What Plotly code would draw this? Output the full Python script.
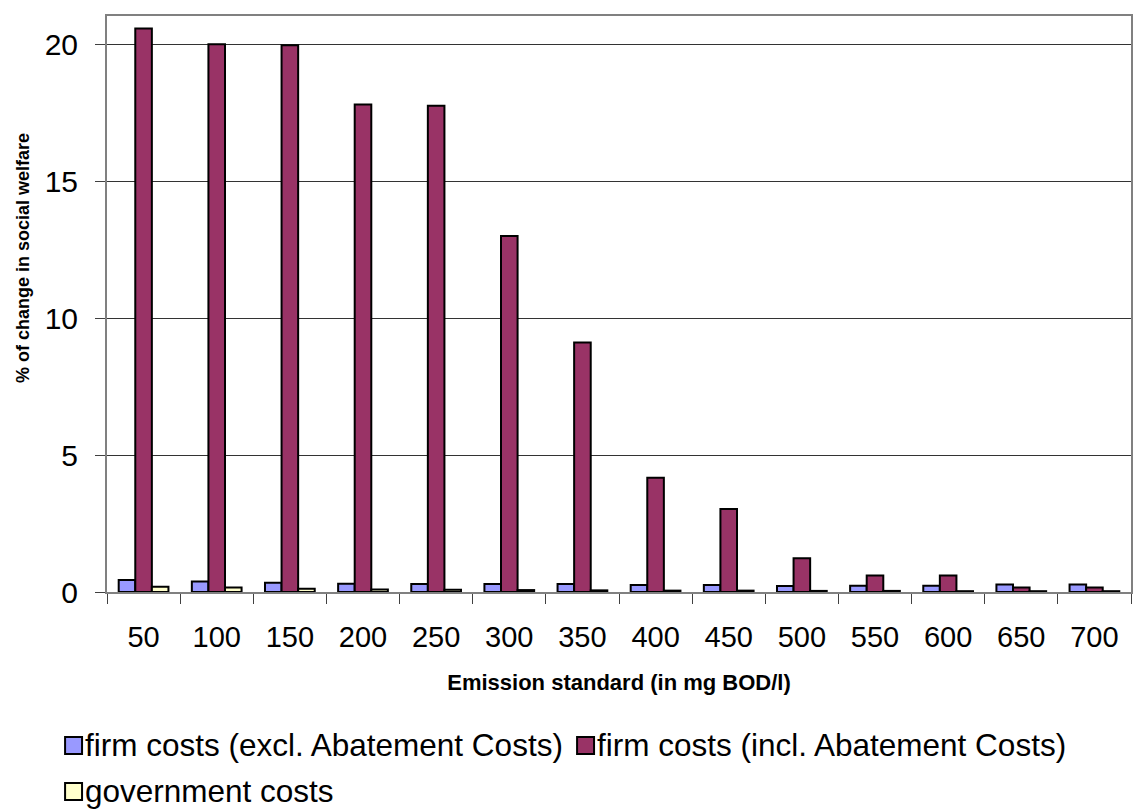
import plotly.graph_objects as go

# Emission standard categories (mg BOD/l)
standards = ["50", "100", "150", "200", "250", "300", "350",
             "400", "450", "500", "550", "600", "650", "700"]

# % change in social welfare per cost component
firm_excl = [0.44, 0.38, 0.34, 0.30, 0.29, 0.29, 0.29,
             0.26, 0.26, 0.22, 0.23, 0.23, 0.27, 0.27]
firm_incl = [20.57, 20.0, 19.96, 17.8, 17.75, 13.0, 9.11,
             4.17, 3.03, 1.23, 0.6, 0.6, 0.16, 0.16]
gov_costs = [0.19, 0.16, 0.12, 0.09, 0.08, 0.07, 0.06,
             0.05, 0.05, 0.04, 0.04, 0.03, 0.03, 0.03]

series_names = ["firm costs (excl. Abatement Costs)",
                "firm costs (incl. Abatement Costs)",
                "government costs"]
series_colors = ["#9999FF", "#993366", "#FFFFCC"]

FONT = "Arial, Liberation Sans, sans-serif"
W, H = 1134, 810
ML, MR, MT, MB = 107, 1, 16, 218

fig = go.Figure()
for name, vals, col in zip(series_names, [firm_excl, firm_incl, gov_costs], series_colors):
    fig.add_trace(go.Bar(
        x=standards, y=vals, name=name,
        marker=dict(color=col, line=dict(color="#000000", width=2)),
    ))

fig.update_layout(
    width=W, height=H,
    margin=dict(l=ML, r=MR, t=MT, b=MB),
    paper_bgcolor="white", plot_bgcolor="white",
    barmode="group", bargap=0.32, bargroupgap=0,
    font=dict(family=FONT, color="#000000"),
    showlegend=False,
)

fig.update_xaxes(
    type="category",
    showline=True, linecolor="#808080", linewidth=2, mirror=True,
    ticks="outside", tickson="boundaries", ticklen=10, tickcolor="#404040",
    tickfont=dict(size=29, family=FONT), ticklabelstandoff=18,
    showgrid=False,
    title=dict(text="<b>Emission standard (in mg BOD/l)</b>",
               font=dict(size=22, family=FONT), standoff=23),
)
fig.update_yaxes(
    range=[0, 21.03],
    tickvals=[0, 5, 10, 15, 20],
    showline=True, linecolor="#808080", linewidth=2, mirror=True,
    ticks="outside", ticklen=10, tickcolor="#404040",
    tickfont=dict(size=30, family=FONT), ticklabelstandoff=11,
    showgrid=True, gridcolor="#333333", gridwidth=1,
    zeroline=False,
)

# y-axis title, placed as rotated text
fig.add_annotation(
    text="<b>% of change in social welfare</b>",
    xref="paper", yref="paper", x=-0.082, y=0.58,
    xanchor="center", yanchor="middle", textangle=-90, showarrow=False,
    font=dict(size=18, family=FONT),
)

# Legend below the chart: swatch + label, laid out in pixel positions
pw, ph = W - ML - MR, H - MT - MB


def px_x(px):
    return (px - ML) / pw


def px_y(py):
    return (H - MB - py) / ph


legend_slots = [(65, 745), (578, 745), (65, 791)]
for (lx, ly), name, col in zip(legend_slots, series_names, series_colors):
    fig.add_shape(
        type="rect", xref="paper", yref="paper",
        x0=px_x(lx), x1=px_x(lx + 17), y0=px_y(ly + 9), y1=px_y(ly - 8),
        fillcolor=col, line=dict(color="#000000", width=2),
    )
    fig.add_annotation(
        text=name, xref="paper", yref="paper",
        x=px_x(lx + 18), y=px_y(ly), xanchor="left", yanchor="middle",
        showarrow=False, font=dict(size=31.5, family=FONT),
    )

fig.write_html("out.html")
